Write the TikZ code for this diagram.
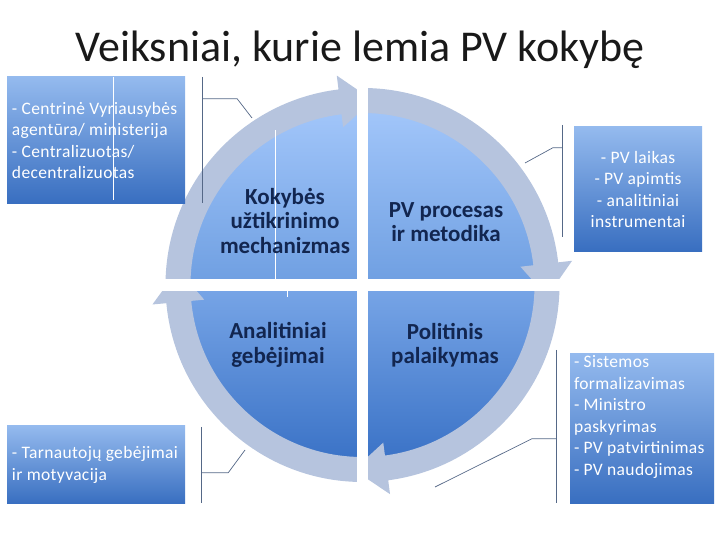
\documentclass[tikz,border=0pt]{standalone}
\usepackage{fontspec}
\setmainfont{Carlito}
\newfontfamily\boxfont[LetterSpace=2]{Carlito}
\usetikzlibrary{calc,positioning}
\definecolor{boxtop}{RGB}{148,186,238}
\definecolor{boxbot}{RGB}{56,110,192}
\definecolor{quadA}{RGB}{162,198,250}
\definecolor{quadB}{RGB}{112,160,226}
\definecolor{quadC}{RGB}{118,164,230}
\definecolor{quadD}{RGB}{58,114,198}
\definecolor{bandcol}{RGB}{182,196,222}
\definecolor{quadtext}{RGB}{18,38,80}
\definecolor{calloutcol}{RGB}{85,104,135}

\begin{document}
\begin{tikzpicture}[x=1pt,y=1pt,
  box/.style={top color=boxtop,bottom color=boxbot,text=white,
              font=\boxfont\fontsize{17.5}{21.5}\selectfont,inner xsep=5pt,inner ysep=0pt},
  quad/.style={font=\bfseries\fontsize{23}{24.5}\selectfont,text=quadtext,align=center},
  band/.style={fill=bandcol},
  callout/.style={draw=calloutcol,line width=.7pt},
  seam/.style={draw=white,line width=.8pt}]
\useasboundingbox (0,0) rectangle (720,540);

% four quarters of the circle, each one lighter at its top
\coordinate (C) at (362.5,255);
\foreach \cx/\cy/\a/\ct/\cb in {357/261/90/quadA/quadB, 368/261/0/quadA/quadB,
    357/249/180/quadC/quadD, 368/249/270/quadC/quadD}{
  \shade[top color=\ct,bottom color=\cb] (\cx,\cy) -- ++(\a:170)
    arc[start angle=\a,delta angle=90,radius=170] -- cycle;
}
% clockwise arrows round the quarters
\foreach \a/\b/\t in {181/97/86.8, 91/6.6/-3.6, 1/-82.5/-92.7, -89/-174.7/-184.9}{
  \fill[band] ($(C)+(\a:197)$) arc[start angle=\a,end angle=\b,radius=197]
    -- ($(C)+(\b:211)$) -- ($(C)+(\t:185)$) -- ($(C)+(\b:159)$) -- ($(C)+(\b:172)$)
    arc[start angle=\b,end angle=\a,radius=172] -- cycle;
}
\fill[white] (357,32) rectangle (368,470);
\fill[white] (150,249) rectangle (580,261);
\draw[seam] (275,410) -- (275,261);
\draw[seam] (287,249) -- (287,243);

\node[font=\fontsize{44}{50}\selectfont,text=black!90,anchor=base] (title) at (360,478)
  {Veiksniai, kurie lemia PV kokybę};

\node[quad] (kokybe) at (285,319) {Kokybės\\užtikrinimo\\mechanizmas};
\node[quad] (procesas) at (446,318) {PV procesas\\ir metodika};
\node[quad] (gebejimai) at (278,195) {Analitiniai\\gebėjimai};
\node[quad] (palaikymas) at (445,195) {Politinis\\palaikymas};

% factor boxes
\node[box,text width=168pt,align=flush left,minimum height=127pt] (agentura) at (96,399.5)
  {- Centrinė Vyriausybės\\agentūra/ ministerija\\- Centralizuotas/\\decentralizuotas};
\node[box,text width=118pt,align=flush center,minimum height=125pt] (laikas) at (638,350.5)
  {- PV laikas\\- PV apimtis\\- analitiniai\\instrumentai};
\node[box,text width=136pt,inner xsep=4pt,align=flush left,minimum height=150pt] (formalizavimas) at (642,111)
  {- Sistemos\\formalizavimas\\- Ministro\\paskyrimas\\- PV patvirtinimas\\- PV naudojimas\rule[-27pt]{0pt}{27.5pt}};
\node[box,text width=168pt,align=flush left,minimum height=78pt] (tarnautojai) at (96,75)
  {- Tarnautojų gebėjimai\\ir motyvacija};
\draw[seam] (113,463) -- (113,340);

% callouts from the boxes to the arrows
\coordinate (p1) at (252,422);
\coordinate (p2) at (525,377);
\coordinate (p3) at (435,53);
\coordinate (p4) at (245,90);
\draw[callout] ($(agentura.north east)+(17,0)$) -- ++(0,-126);
\draw[callout] ($(agentura.north east)+(17,-22)$) -- ++(35,0) -- (p1);
\draw[callout] ($(laikas.north west)+(-11,2)$) -- ++(0,-112);
\draw[callout] ($(laikas.north west)+(-11,-21)$) -- ++(-10,0) -- (p2);
\draw[callout] ($(formalizavimas.north west)+(-13,4)$) -- ++(0,-153);
\draw[callout] ($(formalizavimas.north west)+(-13,-85)$) -- ++(-25,0) -- (p3);
\draw[callout] ($(tarnautojai.north east)+(16,-1)$) -- ++(0,-76);
\draw[callout] ($(tarnautojai.north east)+(16,-47)$) -- ++(27,0) -- (p4);
\end{tikzpicture}
\end{document}
